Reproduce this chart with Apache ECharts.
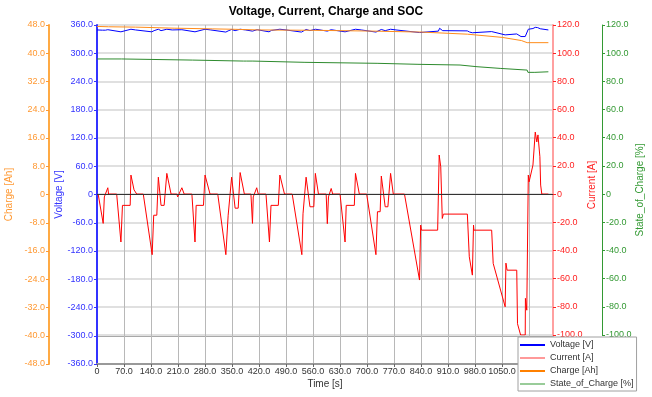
<!DOCTYPE html>
<html>
<head>
<meta charset="utf-8">
<script src="https://cdn.jsdelivr.net/npm/echarts@6/dist/echarts.min.js"></script>
<style>
  html, body { margin: 0; padding: 0; background: #fff; }
  #chart { width: 652px; height: 397px; }
</style>
</head>
<body>
<div id="chart"></div>
<script>
// time axis [s]
var timeMax = 1182;
var timeStep = 70;

// [time s, value]
var voltage = [
  [0,349.5],[14,349],[17,346],[22,349],[28,350],[62,345.5],[66,348.5],[88,351],[100,349.5],
  [142,345.5],[148,348],[159,351],[166,348],[181,351],[195,349.5],[220,350],[254,345.5],
  [258,348.5],[280,351],[295,349.5],[334,345],[340,347.5],[349,350.5],[358,348],[371,351],
  [385,349.5],[403,347],[415,350],[446,345.5],[452,348.5],[474,351],[490,349.5],[530,345],
  [535,347.5],[542,350.5],[552,348],[566,351],[578,349.5],[597,347],[607,350],[643,345.5],
  [647,348.5],[670,351],[685,349.5],[723,345],[728,347.5],[737,350.5],[747,348],[761,351],
  [775,349.5],[836,344],[840,347],[885,347],[888,353],[893,352],[896,348],[960,347.5],
  [966,345],[973,343.5],[976,346.5],[1023,346],[1028,343],[1058,339],[1061,342],[1088,341],
  [1090,337],[1099,335.5],[1110,335.5],[1114,337],[1118,351],[1130,352.5],[1136,355],
  [1142,354.5],[1149,352],[1153,349.5],[1170,349.5]
];

var current = [
  [3,0],[16,-20.8],[19,-2],[23,-3],[28,4.5],[30,0],[51,0],[62,-34],[66,-8],[86,-8],[88,13.5],
  [96,3],[103,0],[120,0],[143,-43],[147,-15],[155,-15],[159,12],[166,-8],[174,-8],[181,14.7],
  [192,0],[207,0],[209,-2],[220,4.5],[226,0],[246,0],[254,-34],[257,-8],[276,-8],[280,13.5],
  [293,0],[313,0],[334,-43],[340,-15],[349,12],[358,-10],[366,-10],[371,15.3],[382,0],[399,0],
  [403,-20.8],[405,-2],[414,4.5],[418,0],[438,0],[447,-34],[451,-8],[470,-8],[474,13.5],
  [486,0],[506,0],[531,-43],[534,-14],[542,12],[552,-9],[562,-9],[566,14.7],[574,0],[594,0],
  [597,-21],[600,-2],[607,4],[611,0],[630,0],[643,-34],[646,-8],[667,-8],[670,14.7],[680,0],
  [699,0],[723,-43],[727,-12.5],[734,-12.5],[737,12.8],[747,-9],[754,-9],[761,14.7],[768,0],
  [797,0],[836,-61],[839,-22],[841,-25.6],[883,-25.6],[887,27.7],[891,19.4],[895,-17.3],
  [898,-14.2],[960,-14.2],[965,-44.5],[973,-57.5],[976,-22],[977,-25.6],[1023,-25.6],
  [1027,-49.2],[1058,-80],[1060,-49],[1063,-54],[1088,-54],[1090,-92],[1098,-100],[1110,-100],
  [1110.5,-74],[1114,-82.4],[1118,13.5],[1120,8.7],[1130,20.6],[1136,44],[1140,37],[1143,42],
  [1148,26.5],[1150,6.4],[1153,0],[1170,0]
];

var charge = [
  [0,47.6],[30,47.5],[100,47.4],[200,47.1],[300,46.9],[350,46.8],[420,46.6],[560,46.5],
  [700,46.3],[840,46.0],[960,45.4],[1050,44.5],[1100,43.6],[1115,43.0],[1170,43.0]
];

var soc = [
  [0,95.9],[64,95.9],[66,95.1],[248,95.1],[250,94.4],[380,94.4],[384,94.0],[388,94.4],
  [404,94.4],[406,93.5],[539,93.5],[541,92.8],[726,92.8],[728,92.1],[832,92.1],[834,91.6],
  [941,91.6],[943,90.4],[985,90.4],[987,89.2],[1045,89.2],[1047,88.0],[1115,88.0],
  [1117,86.4],[1135,86.4],[1137,86.8],[1170,86.8]
];

var FONT = 'Liberation Sans';
function fmt(v) { return v === 0 ? '0' : v.toFixed(1); }

function yAxis(name, grid, pos, offset, min, max, step, col, lineCol, lineW, gap, shift) {
  return {
    type: 'value', name: name, gridIndex: grid, position: pos, offset: offset,
    min: min, max: max, interval: step,
    nameLocation: 'middle', nameRotate: 90, nameGap: gap, nameMoveOverlap: false,
    // right padding of the rotated name pushes it down the axis
    nameTextStyle: { color: col, fontSize: 10, fontFamily: FONT, padding: [0, shift, 0, 0] },
    axisLine: { show: true, onZero: false, lineStyle: { color: lineCol, width: lineW } },
    axisTick: { show: true, length: 3, lineStyle: { color: col } },
    axisLabel: { color: col, fontSize: 9, fontFamily: FONT, margin: 4, formatter: fmt },
    splitLine: { show: false }
  };
}

var chart = echarts.init(document.getElementById('chart'));

var axCharge = yAxis('Charge [Ah]', 0, 'left', 48, -48, 48, 8, '#ff9933', '#ffaa44', 2, 35, 0);
var axVolt = yAxis('Voltage [V]', 0, 'left', 0, -360, 360, 60, '#3333ff', '#3333ff', 2, 33, 0);
axVolt.splitLine = { show: true, lineStyle: { color: '#a8a8a8', width: 1 } };
var axCurr = yAxis('Current [A]', 1, 'right', 0, -100, 120, 20, '#ff2222', '#ffa0a0', 2, 34, 10);
axCurr.splitLine = { show: true, lineStyle: { color: '#e0e0e0', width: 2 } };
var axSoc = yAxis('State_of_Charge [%]', 1, 'right', 49, -100, 120, 20, '#339933', '#339933', 1, 33, 20);

chart.setOption({
  animation: false,
  backgroundColor: '#fff',
  title: {
    text: 'Voltage, Current, Charge and SOC', left: 'center', top: 1,
    textStyle: { fontSize: 12, fontWeight: 'bold', color: '#000', fontFamily: FONT }
  },
  grid: [
    { left: 97, right: 99, top: 25, bottom: 33, outerBoundsMode: 'none' },
    { left: 97, right: 99, top: 25, bottom: 62, outerBoundsMode: 'none' }
  ],
  xAxis: [
    {
      type: 'value', gridIndex: 0, min: 0, max: timeMax, interval: timeStep,
      name: 'Time [s]', nameLocation: 'middle', nameGap: 15, nameMoveOverlap: false,
      nameTextStyle: { color: '#333', fontSize: 10, fontFamily: FONT },
      axisLine: { onZero: false, lineStyle: { color: '#999', width: 2 } },
      axisTick: { length: 3, lineStyle: { color: '#666' } },
      axisLabel: {
        color: '#333', fontSize: 9, fontFamily: FONT, margin: 3,
        // the 1120 label sits under the legend box
        formatter: function (v) { return v > 1100 ? '' : fmt(v); }
      },
      splitLine: { show: true, lineStyle: { color: '#b8b8b8', width: 1 } }
    },
    { type: 'value', gridIndex: 1, min: 0, max: timeMax, show: false }
  ],
  yAxis: [axCharge, axVolt, axCurr, axSoc],
  legend: {
    orient: 'vertical', left: 518, top: 337,
    backgroundColor: '#fff', borderColor: '#a0a0a0', borderWidth: 1,
    padding: [2, 3, 1, 2], itemWidth: 25, itemHeight: 2, itemGap: 1,
    textStyle: { fontSize: 9, color: '#333', fontFamily: FONT, lineHeight: 12 },
    data: [
      { name: 'Voltage [V]', icon: 'rect', itemStyle: { color: '#0000ff' } },
      { name: 'Current [A]', icon: 'rect', itemStyle: { color: '#ff9999' } },
      { name: 'Charge [Ah]', icon: 'rect', itemStyle: { color: '#ff8000' } },
      { name: 'State_of_Charge [%]', icon: 'rect', itemStyle: { color: '#99cc99' } }
    ]
  },
  series: [
    {
      name: 'Voltage [V]', type: 'line', xAxisIndex: 0, yAxisIndex: 1, data: voltage,
      showSymbol: false, lineStyle: { color: '#0000ff', width: 1 }, itemStyle: { color: '#0000ff' }
    },
    {
      name: 'Current [A]', type: 'line', xAxisIndex: 1, yAxisIndex: 2, data: current,
      showSymbol: false, lineStyle: { color: '#ff0000', width: 1 }, itemStyle: { color: '#ff0000' },
      markLine: {
        silent: true, symbol: 'none', label: { show: false },
        lineStyle: { color: '#333', width: 1, type: 'solid' },
        data: [{ yAxis: 0 }]
      }
    },
    {
      name: 'Charge [Ah]', type: 'line', xAxisIndex: 0, yAxisIndex: 0, data: charge,
      showSymbol: false, lineStyle: { color: '#ff8c1a', width: 1 }, itemStyle: { color: '#ff8c1a' }
    },
    {
      name: 'State_of_Charge [%]', type: 'line', xAxisIndex: 1, yAxisIndex: 3, data: soc,
      showSymbol: false, lineStyle: { color: '#2e8b2e', width: 1 }, itemStyle: { color: '#2e8b2e' }
    }
  ]
});
</script>
</body>
</html>
